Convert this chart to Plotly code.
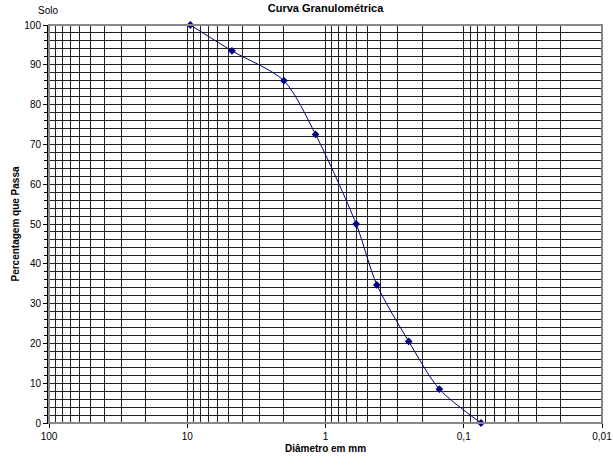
import plotly.graph_objects as go

# Sieve openings (mm) and percent passing
diametros = [9.5, 4.75, 2.0, 1.18, 0.6, 0.425, 0.25, 0.15, 0.075]
passante = [100, 93.5, 86, 72.5, 50, 34.7, 20.5, 8.5, 0]

x_ticks = [100, 10, 1, 0.1, 0.01]
x_labels = ["100", "10", "1", "0,1", "0,01"]
x_minor = [m * 10 ** e for e in (-2, -1, 0, 1) for m in range(2, 10)]

fig = go.Figure(go.Scatter(
    x=diametros, y=passante,
    mode="lines+markers",
    line=dict(color="#000080", width=1, shape="spline", smoothing=0.8),
    marker=dict(color="#000080", size=6, symbol="diamond"),
    cliponaxis=False,
    showlegend=False,
))

grid = "#222222"
fig.update_xaxes(
    type="log", range=[2, -2], automargin=False,
    tickvals=x_ticks, ticktext=x_labels,
    ticks="outside", ticklen=4, tickcolor="black",
    showgrid=True, gridcolor=grid, gridwidth=1,
    minor=dict(tickvals=x_minor, showgrid=True, gridcolor=grid, gridwidth=1, ticks=""),
    showline=True, linecolor="black", linewidth=1,
    zeroline=False,
    title=dict(text="<b>Diâmetro em mm</b>", font=dict(size=10), standoff=3),
    tickfont=dict(size=10),
)
fig.update_yaxes(
    range=[0, 100], dtick=10, automargin=False,
    ticks="outside", ticklen=4, tickcolor="black",
    showgrid=True, gridcolor=grid, gridwidth=1,
    minor=dict(dtick=2, showgrid=True, gridcolor=grid, gridwidth=1,
               ticks="outside", ticklen=3, tickcolor="black"),
    showline=True, linecolor="black", linewidth=2,
    zeroline=False,
    title=dict(text="<b>Percentagem que Passa</b>", font=dict(size=10), standoff=3),
    tickfont=dict(size=10),
)

fig.add_shape(type="rect", xref="paper", yref="paper", x0=0, x1=1, y0=0, y1=1,
              line=dict(color="#888888", width=2), layer="above")

fig.update_layout(
    width=613, height=471,
    margin=dict(l=49, r=11, t=25, b=48),
    paper_bgcolor="white", plot_bgcolor="white",
    font=dict(family="Liberation Sans, Arial", color="black", size=10),
    title=dict(text="<b>Curva Granulométrica</b>", xref="paper", x=0.5, xanchor="center",
               yref="container", y=0.99, yanchor="top", font=dict(size=11)),
    annotations=[dict(text="Solo", xref="paper", yref="paper", x=-0.002, y=1.0,
                      xanchor="center", yanchor="bottom", yshift=7,
                      showarrow=False, font=dict(size=10))],
)

# drop the default page margin so the figure sits at the window's corner
fig.write_html("out.html", config={"displayModeBar": False},
               post_script="document.body.style.margin='0';")
